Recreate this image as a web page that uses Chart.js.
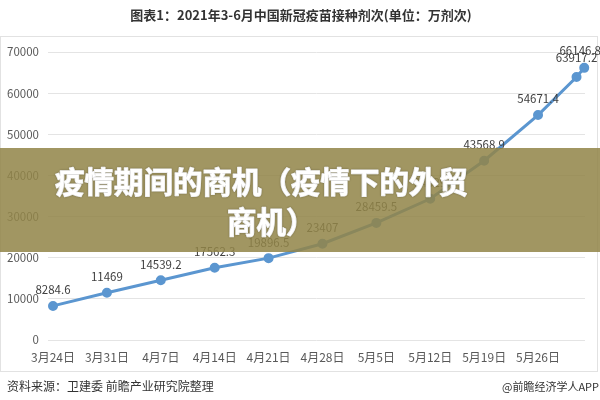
<!DOCTYPE html>
<html>
<head>
<meta charset="utf-8">
<script src="https://cdn.jsdelivr.net/npm/chart.js@4"></script>
<style>
html,body{margin:0;padding:0;background:#fff;}
#wrap{width:600px;height:400px;position:relative;}
</style>
</head>
<body>
<div id="wrap"><canvas id="c" width="600" height="400"></canvas></div>
<script>
// ---- data ----
const dayOffsets = [0, 7, 14, 21, 28, 35, 42, 49, 56, 63, 68, 69];
const doses = [8284.6, 11469, 14539.2, 17562.3, 19896.5, 23407, 28459.5, 34329, 43568.9, 54671.4, 63917.2, 66146.8];
const xTickDays = [0, 7, 14, 21, 28, 35, 42, 49, 56, 63];
const xTickLabels = ['3月24日', '3月31日', '4月7日', '4月14日', '4月21日', '4月28日', '5月5日', '5月12日', '5月19日', '5月26日'];
const yTicks = [0, 10000, 20000, 30000, 40000, 50000, 60000, 70000];
const titleText = '图表1：2021年3-6月中国新冠疫苗接种剂次(单位：万剂次)';
const sourceText = '资料来源：卫建委 前瞻产业研究院整理';
const brandText = '@前瞻经济学人APP';
const bannerLines = ['疫情期间的商机（疫情下的外贸', '商机）'];

const FONT = '"Noto Sans CJK SC", "Noto Sans", sans-serif';
const lineColor = '#5b96d0';

const decorPlugin = {
  id: 'decor',
  beforeDraw(chart) {
    const ctx = chart.ctx;
    ctx.save();
    ctx.fillStyle = '#ffffff';
    ctx.fillRect(0, 0, chart.width, chart.height);
    ctx.strokeStyle = '#e2e2e2';
    ctx.lineWidth = 1;
    ctx.strokeRect(0.5, 36.5, 597, 335);
    ctx.fillStyle = '#333333';
    ctx.font = 'bold 13px ' + FONT;
    ctx.textAlign = 'center';
    ctx.textBaseline = 'middle';
    ctx.fillText(titleText, 301, 15);
    ctx.font = '12px ' + FONT;
    ctx.textAlign = 'left';
    ctx.fillText(sourceText, 7, 386);
    ctx.font = '11px ' + FONT;
    ctx.textAlign = 'right';
    ctx.fillText(brandText, 599, 387);
    ctx.restore();
  },
  afterDatasetsDraw(chart) {
    const ctx = chart.ctx;
    const meta = chart.getDatasetMeta(0);
    ctx.save();
    ctx.fillStyle = '#404040';
    ctx.font = '11.5px ' + FONT;
    ctx.textAlign = 'center';
    ctx.textBaseline = 'middle';
    meta.data.forEach((pt, i) => {
      const v = chart.data.datasets[0].data[i].y;
      let dx = 0, dy = -16;
      if (i === dayOffsets.length - 1) { dx = -4; dy = -17; }
      if (i === dayOffsets.length - 2) { dx = 0; dy = -19; }
      ctx.fillText(String(v), pt.x + dx, pt.y + dy);
    });
    ctx.restore();
  },
  afterDraw(chart) {
    const ctx = chart.ctx;
    ctx.save();
    ctx.fillStyle = 'rgba(145,133,72,0.86)';
    ctx.fillRect(0, 148, 600, 104);
    ctx.fillStyle = '#ffffff';
    ctx.strokeStyle = '#ffffff';
    ctx.lineWidth = 1.2;
    ctx.lineJoin = 'round';
    ctx.font = 'bold 29.5px ' + FONT;
    ctx.textAlign = 'left';
    ctx.textBaseline = 'middle';
    ctx.shadowColor = 'rgba(0,0,0,0.25)';
    ctx.shadowBlur = 2;
    ctx.strokeText(bannerLines[0], 55, 182);
    ctx.fillText(bannerLines[0], 55, 182);
    ctx.strokeText(bannerLines[1], 227, 222);
    ctx.fillText(bannerLines[1], 227, 222);
    ctx.restore();
  }
};

new Chart(document.getElementById('c'), {
  type: 'line',
  data: {
    datasets: [{
      data: dayOffsets.map((d, i) => ({ x: d, y: doses[i] })),
      borderColor: lineColor,
      backgroundColor: lineColor,
      borderWidth: 3,
      pointRadius: 3.5,
      pointBackgroundColor: lineColor,
      pointBorderColor: lineColor,
      tension: 0,
      clip: false
    }]
  },
  options: {
    responsive: false,
    animation: false,
    layout: { padding: { left: 0, right: 15, top: 52, bottom: 0 } },
    plugins: { legend: { display: false }, tooltip: { enabled: false }, title: { display: false } },
    scales: {
      x: {
        type: 'linear',
        min: -0.65,
        max: 69.1,
        afterBuildTicks(scale) { scale.ticks = xTickDays.map(v => ({ value: v })); },
        afterFit(scale) { scale.height = 60; },
        grid: { display: false, drawTicks: false },
        border: { display: false },
        ticks: {
          padding: 10,
          autoSkip: false,
          maxRotation: 0,
          color: '#595959',
          font: { family: FONT, size: 12 },
          callback(value) {
            const k = xTickDays.indexOf(value);
            return k >= 0 ? xTickLabels[k] : '';
          }
        }
      },
      y: {
        min: 0,
        max: 70000,
        afterBuildTicks(scale) { scale.ticks = yTicks.map(v => ({ value: v })); },
        afterFit(scale) { scale.width = 48; },
        grid: { color: '#e4e4e4', lineWidth: 1, drawTicks: false },
        border: { display: false },
        ticks: {
          padding: 9,
          color: '#595959',
          font: { family: FONT, size: 11.5 },
          callback: v => String(v)
        }
      }
    }
  },
  plugins: [decorPlugin]
});
</script>
</body>
</html>
